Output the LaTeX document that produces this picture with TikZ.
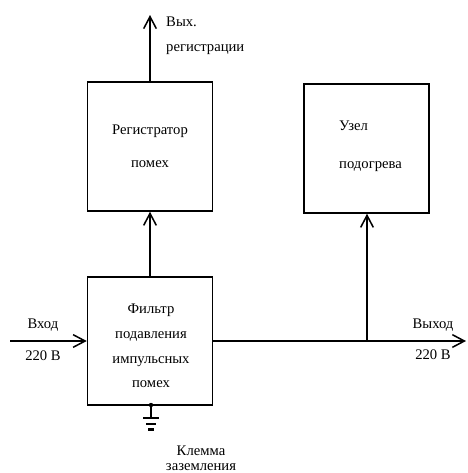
\documentclass[tikz,border=0pt]{standalone}
\usepackage{fontspec}
\setmainfont{Liberation Serif}
\usetikzlibrary{arrows.meta}
\tikzset{
  block/.style={draw, line width=1.3pt, minimum width=3.75cm, minimum height=3.87cm, inner sep=0pt},
  sig/.style={line width=1.3pt, -{Straight Barb[length=3.6mm, width=3.8mm, line width=1.3pt]}},
  txt/.style={font=\fontsize{12.5}{15}\selectfont, inner sep=0pt}
}
\begin{document}
\begin{tikzpicture}[x=0.03cm, y=-0.03cm]
            \useasboundingbox (0,0) rectangle (467,473);
            \node[block, minimum height=3.84cm] (filter) at (150,341) {};
            \node[txt, align=center, font=\fontsize{12.5}{21}\selectfont] (filtertxt) at (151,346)
                {Фильтр\\подавления\\импульсных\\помех};
            \node[block, txt, align=center, font=\fontsize{12.5}{28}\selectfont] (register) at (150,146.5)
                {Регистратор\\помех};
            \node[block, minimum width=3.75cm] (heater) at (366.5,148.5) {};
            \node[txt, anchor=west, align=left, font=\fontsize{12.5}{32}\selectfont] (heatertxt) at (339,146.5)
                {Узел\\подогрева};
            \coordinate (in) at (10,341);
            \coordinate (out) at (466,341);
            \coordinate (tap) at (367,341);
            \coordinate (regout) at (150,15);
            \coordinate (gnd) at (151,405);
            \draw[sig] (in) -- (filter.west |- in);
            \draw[line width=1.3pt] (filter.east |- out) -- (tap);
            \draw[sig] (tap) -- (out);
            \draw[sig] (tap) -- (tap |- heater.south);
            \draw[sig] (filter.north) -- (register.south);
            \draw[sig] (register.north) -- (regout);
            % заземление
            \fill (gnd) circle (2.2);
            \draw[line width=1.3pt] (gnd) -- ++(0,13);
            \draw[line width=1.8pt] (143,418) -- (159,418)
                (146,424) -- (156,424) (148,429.5) -- (154,429.5);
            \node[txt] (inlbl) at (43,325) {Вход};
            \node[txt] (involt) at (43,356) {220 В};
            \node[txt] (outlbl) at (433,325) {Выход};
            \node[txt] (outvolt) at (433,355) {220 В};
            \node[txt, anchor=west, align=left, font=\fontsize{12.5}{21}\selectfont] (reglbl) at (166,36)
                {Вых.\\регистрации};
            \node[txt, align=center, font=\fontsize{12.5}{13}\selectfont] (gndlbl) at (201,458)
                {Клемма\\заземления};
        \end{tikzpicture}
\end{document}
